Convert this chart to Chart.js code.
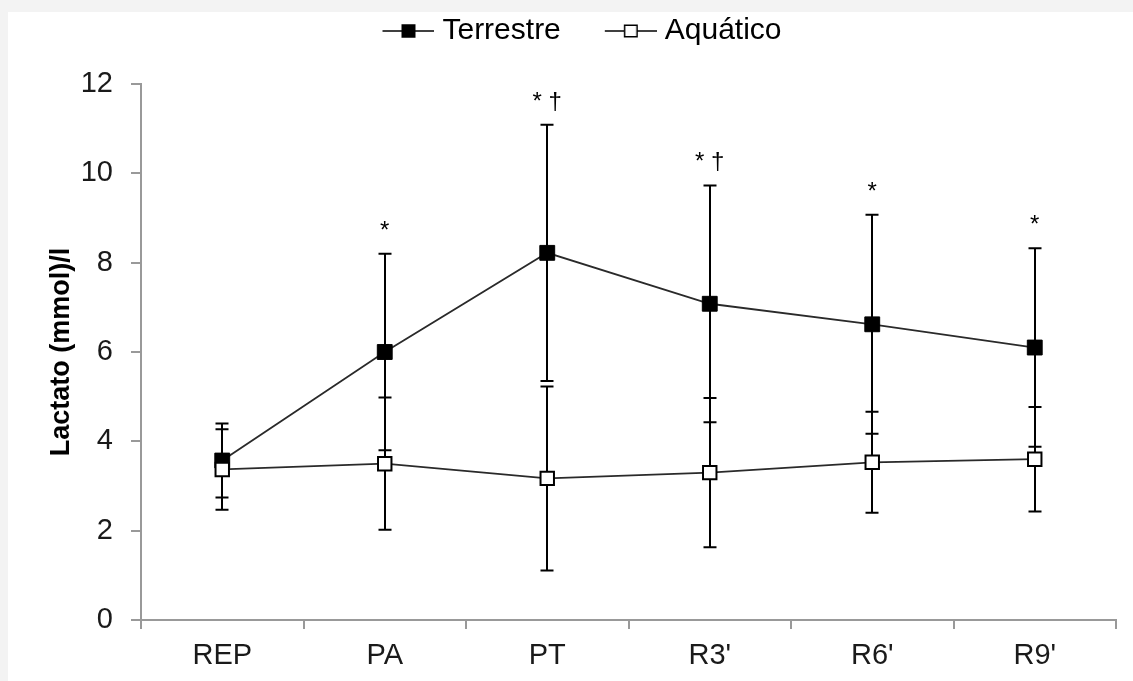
<!DOCTYPE html>
<html>
<head>
<meta charset="utf-8">
<script src="https://cdn.jsdelivr.net/npm/chart.js@4.4.1/dist/chart.umd.min.js"></script>
<style>
  html, body { margin: 0; padding: 0; background: #f3f3f3; }
  #frame { position: absolute; left: 8px; top: 12px; width: 1125px; height: 669px; background: #fff; }
</style>
</head>
<body>
<div id="frame"><canvas id="chart" width="1125" height="669"></canvas></div>
<script>
// valores (média e desvio padrão)
var categories = ['REP', 'PA', 'PT', "R3'", "R6'", "R9'"];
var terrestreMean = [3.57, 6.0, 8.22, 7.08, 6.62, 6.1];
var terrestreSD = [0.83, 2.2, 2.87, 2.65, 2.45, 2.22];
var aquaticoMean = [3.37, 3.5, 3.17, 3.3, 3.53, 3.6];
var aquaticoSD = [0.9, 1.48, 2.06, 1.67, 1.13, 1.17];
var marks = ['', '*', '* \u2020', '* \u2020', '*', '*'];
var yTicks = [0, 2, 4, 6, 8, 10, 12];

var fontFamily = '"Liberation Sans", Arial, sans-serif';

function legendIcon(fill) {
    var c = document.createElement('canvas');
    c.width = 99;
    c.height = 20;
    var g = c.getContext('2d');
    g.strokeStyle = '#000';
    g.lineWidth = 1.5;
    g.beginPath();
    g.moveTo(47, 10);
    g.lineTo(99, 10);
    g.stroke();
    g.fillStyle = fill;
    g.fillRect(66, 3.5, 14, 13);
    g.strokeRect(66.75, 4.25, 12.5, 11.5);
    return c;
}
var icons = [legendIcon('#000'), legendIcon('#fff')];

// legenda mais alta para empurrar a área do gráfico para baixo
var legendHeight = {
    id: 'legendHeight',
    beforeInit: function (chart) {
        var fit = chart.legend.fit;
        chart.legend.fit = function () {
            fit.call(this);
            this.height = 72;
        };
    }
};

var errorBars = {
    id: 'errorBars',
    beforeDatasetsDraw: function (chart) {
        var ctx = chart.ctx, xs = chart.scales.x, ys = chart.scales.y;
        ctx.save();
        ctx.strokeStyle = '#000';
        ctx.lineWidth = 2;
        [[terrestreMean, terrestreSD], [aquaticoMean, aquaticoSD]].forEach(function (s) {
            s[0].forEach(function (m, i) {
                var px = Math.round(xs.getPixelForValue(i));
                var top = ys.getPixelForValue(m + s[1][i]);
                var bot = ys.getPixelForValue(m - s[1][i]);
                ctx.beginPath();
                ctx.moveTo(px, top); ctx.lineTo(px, bot);
                ctx.moveTo(px - 6.5, top); ctx.lineTo(px + 6.5, top);
                ctx.moveTo(px - 6.5, bot); ctx.lineTo(px + 6.5, bot);
                ctx.stroke();
            });
        });
        ctx.restore();
    }
};

var significance = {
    id: 'significance',
    afterDatasetsDraw: function (chart) {
        var ctx = chart.ctx, xs = chart.scales.x, ys = chart.scales.y;
        ctx.save();
        ctx.fillStyle = '#000';
        ctx.font = '24px ' + fontFamily;
        ctx.textAlign = 'center';
        ctx.textBaseline = 'alphabetic';
        marks.forEach(function (t, i) {
            if (!t) return;
            var px = xs.getPixelForValue(i);
            var py = ys.getPixelForValue(terrestreMean[i] + terrestreSD[i]) - 16;
            ctx.fillText(t, px, py);
        });
        ctx.restore();
    }
};

new Chart(document.getElementById('chart').getContext('2d'), {
    type: 'line',
    data: {
        labels: categories,
        datasets: [{
            label: 'Terrestre',
            data: terrestreMean,
            borderColor: '#2a2a2a',
            borderWidth: 1.8,
            pointStyle: 'rect',
            pointRadius: 10.5,
            pointBackgroundColor: '#000',
            pointBorderColor: '#000',
            pointBorderWidth: 1,
            tension: 0,
            order: 1
        }, {
            label: 'Aquático',
            data: aquaticoMean,
            borderColor: '#2a2a2a',
            borderWidth: 1.8,
            pointStyle: 'rect',
            pointRadius: 9.5,
            pointBackgroundColor: '#fff',
            pointBorderColor: '#000',
            pointBorderWidth: 2,
            tension: 0,
            order: 0
        }]
    },
    options: {
        responsive: false,
        animation: false,
        devicePixelRatio: 1,
        events: [],
        layout: { padding: { left: 0, right: 17, top: 0, bottom: 0 } },
        plugins: {
            tooltip: { enabled: false },
            legend: {
                position: 'top',
                labels: {
                    usePointStyle: true,
                    pointStyleWidth: 85,
                    padding: 4,
                    color: '#000',
                    font: { family: fontFamily, size: 30 },
                    sort: function (a, b) { return a.datasetIndex - b.datasetIndex; },
                    generateLabels: function (chart) {
                        var items = Chart.defaults.plugins.legend.labels.generateLabels(chart);
                        items.forEach(function (it) { it.pointStyle = icons[it.datasetIndex]; });
                        return items;
                    }
                }
            }
        },
        scales: {
            x: {
                offset: true,
                grid: { offset: true, drawOnChartArea: false, color: '#999', lineWidth: 2, tickLength: 9 },
                border: { color: '#999', width: 2 },
                ticks: { color: '#1a1a1a', padding: 10, font: { family: fontFamily, size: 29 } },
                afterFit: function (axis) { axis.height = 61; }
            },
            y: {
                min: 0,
                max: 12,
                afterBuildTicks: function (axis) {
                    axis.ticks = yTicks.map(function (v) { return { value: v }; });
                },
                grid: { drawOnChartArea: false, color: '#999', lineWidth: 2, tickLength: 10 },
                border: { color: '#999', width: 2 },
                ticks: { color: '#1a1a1a', padding: 18, font: { family: fontFamily, size: 29 } },
                title: {
                    display: true,
                    text: 'Lactato (mmol)/l',
                    color: '#000',
                    font: { family: fontFamily, size: 27, weight: 'bold' },
                    padding: { top: 37, bottom: 0 }
                },
                afterFit: function (axis) { axis.width = 133; }
            }
        }
    },
    plugins: [legendHeight, errorBars, significance]
});
</script>
</body>
</html>
